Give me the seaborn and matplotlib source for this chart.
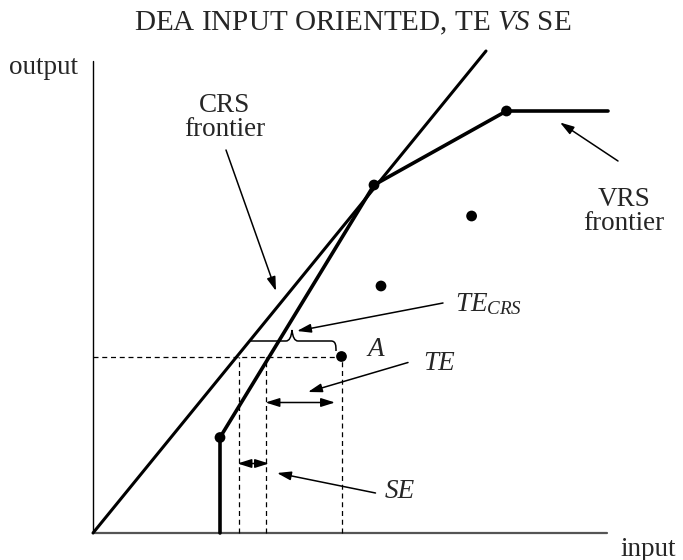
import seaborn as sns
import matplotlib.pyplot as plt
import pandas as pd
from matplotlib.path import Path
from matplotlib.patches import PathPatch

# unita' arbitrarie di input / output
crs_input = [0.0, 39.3]
crs_output = [0.0, 48.2]

vrs_input = [12.7, 12.7, 28.1, 41.35, 51.5]
vrs_output = [0.0, 9.55, 34.8, 42.2, 42.2]

dmu_input = [12.7, 28.1, 41.35, 37.86, 28.8, 24.85]
dmu_output = [9.55, 34.8, 42.2, 31.7, 24.7, 17.65]

# punto A e proiezioni sulle frontiere
a_input, a_output = 24.85, 17.65
proj_input = [14.6, 17.25, a_input]

sns.set_theme(style='white')
plt.rcParams['font.family'] = ['Liberation Serif', 'DejaVu Serif']
plt.rcParams['mathtext.fontset'] = 'custom'
plt.rcParams['mathtext.it'] = 'Liberation Serif:italic'
plt.rcParams['mathtext.rm'] = 'Liberation Serif'

fig = plt.figure(figsize=(6.83, 5.6), dpi=100)
ax = fig.add_axes([0, 0, 1, 1])
ax.set_xlim(-9.3, 59.0)
ax.set_ylim(-2.7, 53.3)
ax.axis('off')

# assi
ax.plot([0, 0], [0, 47.2], color='black', lw=1.0)
ax.plot([0, 51.4], [0, 0], color='#555555', lw=1.6)

# frontiere
df_crs = pd.DataFrame({'input': crs_input, 'output': crs_output})
df_vrs = pd.DataFrame({'input': vrs_input, 'output': vrs_output})
sns.lineplot(data=df_crs, x='input', y='output', color='black', lw=2.2,
             sort=False, estimator=None, ax=ax)
sns.lineplot(data=df_vrs, x='input', y='output', color='black', lw=2.6,
             sort=False, estimator=None, ax=ax)

# DMU
df_dmu = pd.DataFrame({'input': dmu_input, 'output': dmu_output})
sns.scatterplot(data=df_dmu, x='input', y='output', color='black', s=60,
                edgecolor='none', ax=ax, zorder=5)

# linee tratteggiate
ax.plot([0, a_input], [a_output, a_output], color='black', lw=0.9, ls=(0, (4, 3)))
for xv in proj_input:
    ax.plot([xv, xv], [0, a_output], color='black', lw=0.9, ls=(0, (4, 3)))

head = '-|>,head_length=0.7,head_width=0.22'
both = '<|-|>,head_length=0.7,head_width=0.22'

def freccia(xy, xytext, style=head):
    ax.annotate('', xy=xy, xytext=xytext,
                arrowprops=dict(arrowstyle=style, color='black', lw=1.1,
                                shrinkA=0, shrinkB=0))

# frecce doppie TE e SE
freccia((17.25, 13.05), (24.2, 13.05), both)
freccia((14.45, 6.95), (17.6, 6.95), both)

# parentesi graffa TE_CRS
by, bt = 19.2, 20.3
bx0 = by * crs_input[1] / crs_output[1]
bx1 = 24.3
bm = 19.9
verts = [(bx0, by), (bm - 0.6, by),
         (bm - 0.6, by), (bm - 0.1, by), (bm, bt),
         (bm + 0.1, by), (bm + 0.6, by), (bm + 0.6, by),
         (bx1 - 0.5, by),
         (bx1, by), (bx1, by - 0.5), (bx1, by - 1.0)]
codes = [Path.MOVETO, Path.LINETO,
         Path.LINETO, Path.CURVE3, Path.CURVE3,
         Path.CURVE3, Path.CURVE3, Path.LINETO,
         Path.LINETO,
         Path.CURVE4, Path.CURVE4, Path.CURVE4]
ax.add_patch(PathPatch(Path(verts, codes), fill=False, lw=1.1, color='black'))

# frecce esplicative
freccia((20.4, 20.2), (35.0, 23.0))
freccia((21.5, 14.1), (31.5, 17.05))
freccia((18.4, 6.0), (28.25, 4.0))
freccia((18.3, 24.2), (13.3, 38.3))
freccia((46.7, 41.05), (52.5, 37.2))

fs = 19.5
ax.text(13.2, 41.55, 'CRS\nfrontier', ha='center', va='center', fontsize=fs, linespacing=0.95)
ax.text(53.1, 32.15, 'VRS\nfrontier', ha='center', va='center', fontsize=fs, linespacing=0.95)
ax.text(36.2, 22.9, r'$TE_{CRS}$', ha='left', va='center', fontsize=fs)
ax.text(28.3, 18.3, 'A', ha='center', va='center', fontsize=fs, style='italic')
ax.text(33.0, 16.9, 'TE', ha='left', va='center', fontsize=fs, style='italic')
ax.text(30.7, 4.1, 'SE', ha='center', va='center', fontsize=fs, style='italic')
ax.text(-4.9, 46.6, 'output', ha='center', va='center', fontsize=fs)
ax.text(55.5, -1.6, 'input', ha='center', va='center', fontsize=fs)

fig.text(0.516, 0.959, r'DEA INPUT ORIENTED, TE $\mathit{VS}$ SE',
         ha='center', va='center', fontsize=21)

plt.savefig('out.png', dpi=100)
